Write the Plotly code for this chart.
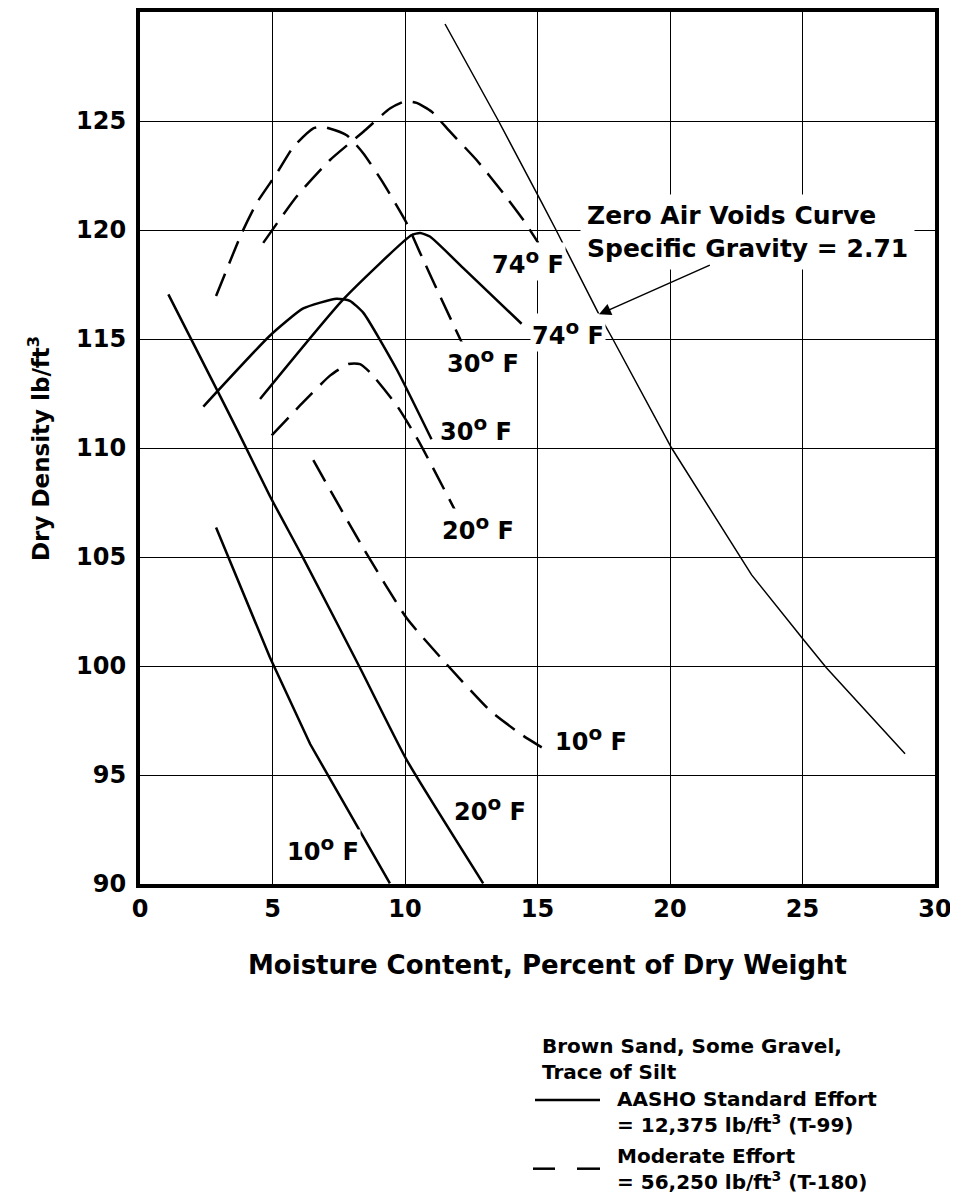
import plotly.graph_objects as go

# Moisture content (%) vs dry density (lb/ft3)
zav_x = [11.51, 13.53, 15.17, 15.7, 17.32, 17.84, 20.06, 22.64, 23.08, 25.04, 25.9, 28.87]
zav_y = [129.45, 125.0, 121.23, 120.0, 116.13, 115.0, 110.0, 105.07, 104.18, 101.2, 99.92, 95.97]

# AASHO standard effort (solid)
std74_x = [4.53, 7.67, 10.25, 10.57, 10.94, 12.2, 14.4]
std74_y = [112.25, 116.82, 119.77, 119.86, 119.7, 118.25, 115.7]
std30_x = [2.39, 4.9, 6.16, 7.42, 7.92, 8.43, 9.69, 11.0]
std30_y = [111.9, 115.15, 116.4, 116.85, 116.75, 116.2, 113.6, 110.4]
std20_x = [1.07, 2.89, 3.71, 4.9, 6.16, 8.3, 10.06, 12.95]
std20_y = [117.05, 112.7, 110.73, 107.8, 104.95, 99.92, 95.7, 90.03]
std10_x = [2.87, 4.9, 6.42, 9.43]
std10_y = [106.35, 100.4, 96.42, 90.03]

# Moderate effort (dashed)
mod74_x = [4.65, 5.91, 7.17, 8.43, 9.43, 10.0, 10.44, 11.01, 11.7, 12.7, 13.71, 14.46, 15.03]
mod74_y = [119.41, 121.54, 123.21, 124.51, 125.57, 125.9, 125.83, 125.42, 124.51, 123.21, 121.69, 120.47, 119.41]
mod30_x = [2.87, 3.84, 4.4, 5.16, 5.79, 6.54, 6.92, 7.8, 8.43, 9.18, 10.06, 10.57, 11.32, 12.2]
mod30_y = [116.97, 119.86, 121.23, 122.6, 123.82, 124.66, 124.73, 124.35, 123.51, 122.15, 120.32, 118.95, 116.97, 114.69]
mod20_x = [4.97, 6.16, 7.17, 7.86, 8.3, 8.68, 9.69, 10.5, 11.95]
mod20_y = [110.58, 112.1, 113.32, 113.85, 113.85, 113.47, 111.95, 110.35, 107.0]
mod10_x = [6.54, 8.43, 10.06, 11.57, 13.21, 14.46, 15.16]
mod10_y = [109.44, 105.4, 102.2, 100.08, 97.95, 96.8, 96.27]

# temperature labels beside the curve ends
label_temp = ["74", "74", "30", "30", "20", "20", "10", "10"]
label_x = [13.21, 14.71, 11.51, 11.26, 11.32, 11.76, 15.6, 5.47]
label_y = [118.55, 115.3, 114.0, 110.88, 106.35, 93.48, 96.68, 91.65]

x_ticks = [0, 5, 10, 15, 20, 25, 30]
y_ticks = [90, 95, 100, 105, 110, 115, 120, 125]

FONT = "DejaVu Sans"
W, H = 950, 1188          # page has an 8px body margin
L, R, T, B = 132, 23, 0, 312
PLOT_L, PLOT_R, PLOT_B = 140, 935, 884  # plot edges in page pixels
PW, PH = PLOT_R - PLOT_L, H - T - B


def px(xp):
    """page pixel column -> paper x"""
    return (xp - PLOT_L) / PW


def py(yp):
    """page pixel row -> paper y"""
    return (PLOT_B - yp) / PH


def bold(size):
    return dict(family=FONT, size=size, color="black", weight="bold")


fig = go.Figure()

fig.add_trace(go.Scatter(x=zav_x, y=zav_y, mode="lines",
                         line=dict(color="black", width=1.5)))

# solid curves; the 10 deg one keeps its kink
for xs, ys, shape in [(std74_x, std74_y, "spline"), (std30_x, std30_y, "spline"),
                      (std20_x, std20_y, "spline"), (std10_x, std10_y, "linear")]:
    fig.add_trace(go.Scatter(x=xs, y=ys, mode="lines",
                             line=dict(color="black", width=2.5, shape=shape, smoothing=0.5)))

for xs, ys in [(mod74_x, mod74_y), (mod30_x, mod30_y), (mod20_x, mod20_y), (mod10_x, mod10_y)]:
    fig.add_trace(go.Scatter(x=xs, y=ys, mode="lines",
                             line=dict(color="black", width=2.5, dash="24px,11px",
                                       shape="spline", smoothing=0.5)))

annotations = []
for t, lx, ly in zip(label_temp, label_x, label_y):
    annotations.append(dict(
        x=lx, y=ly, xref="x", yref="y", xanchor="left", yanchor="middle",
        text=f"{t}<sup><span style='font-size:20px'>o</span></sup> F",
        showarrow=False, font=bold(24), bgcolor="white", borderpad=1,
    ))

# zero air voids note + arrow
annotations += [
    dict(x=16.6, y=119.91, xref="x", yref="y", xanchor="left", yanchor="middle",
         text="Zero Air Voids Curve<br>Specific Gravity = 2.71", align="left",
         showarrow=False, font=bold(25), bgcolor="white", borderpad=6),
    dict(x=17.32, y=116.13, xref="x", yref="y", ax=21.56, ay=118.42,
         axref="x", ayref="y", text="", showarrow=True,
         arrowhead=2, arrowsize=1.6, arrowwidth=1.5, arrowcolor="black"),
]

# axis titles
annotations += [
    dict(x=px(547), y=py(965), xref="paper", yref="paper", xanchor="center", yanchor="middle",
         text="Moisture Content, Percent of Dry Weight", showarrow=False, font=bold(26)),
    dict(x=px(39), y=py(447), xref="paper", yref="paper", xanchor="center", yanchor="middle",
         text="Dry Density lb/ft<sup>3</sup>", textangle=-90, showarrow=False, font=bold(23)),
]

# legend block
legend_blocks = [
    ("Brown Sand, Some Gravel,<br>Trace of Silt", 540, 1060),
    ("AASHO Standard Effort<br>= 12,375 lb/ft<sup>3</sup> (T-99)", 615, 1113),
    ("Moderate Effort<br>= 56,250 lb/ft<sup>3</sup> (T-180)", 615, 1170),
]
for text, lx, ly in legend_blocks:
    annotations.append(dict(
        x=px(lx), y=py(ly), xref="paper", yref="paper", xanchor="left", yanchor="middle",
        text=text, align="left", showarrow=False, font=bold(20),
    ))

shapes = [
    dict(type="line", xref="paper", yref="paper", x0=px(535), x1=px(600), y0=py(1101), y1=py(1101),
         line=dict(color="black", width=2.5)),
    dict(type="line", xref="paper", yref="paper", x0=px(533), x1=px(555), y0=py(1170), y1=py(1170),
         line=dict(color="black", width=2.5)),
    dict(type="line", xref="paper", yref="paper", x0=px(577), x1=px(600), y0=py(1170), y1=py(1170),
         line=dict(color="black", width=2.5)),
]

axis_common = dict(
    showgrid=True, gridcolor="black", gridwidth=1.3,
    showline=True, linecolor="black", linewidth=4, mirror=True,
    zeroline=False, tickcolor="rgba(0,0,0,0)",
    tickfont=bold(24),
)

fig.update_layout(
    width=W, height=H,
    margin=dict(l=L, r=R, t=T, b=B, pad=0),
    paper_bgcolor="white",
    plot_bgcolor="white",
    showlegend=False,
    font=bold(24),
    xaxis=dict(range=[0, 30], tickvals=x_ticks, ticks="", **axis_common),
    yaxis=dict(range=[90, 130], tickvals=y_ticks, ticks="outside", ticklen=5, **axis_common),
    annotations=annotations,
    shapes=shapes,
)

fig.write_html("out.html")
